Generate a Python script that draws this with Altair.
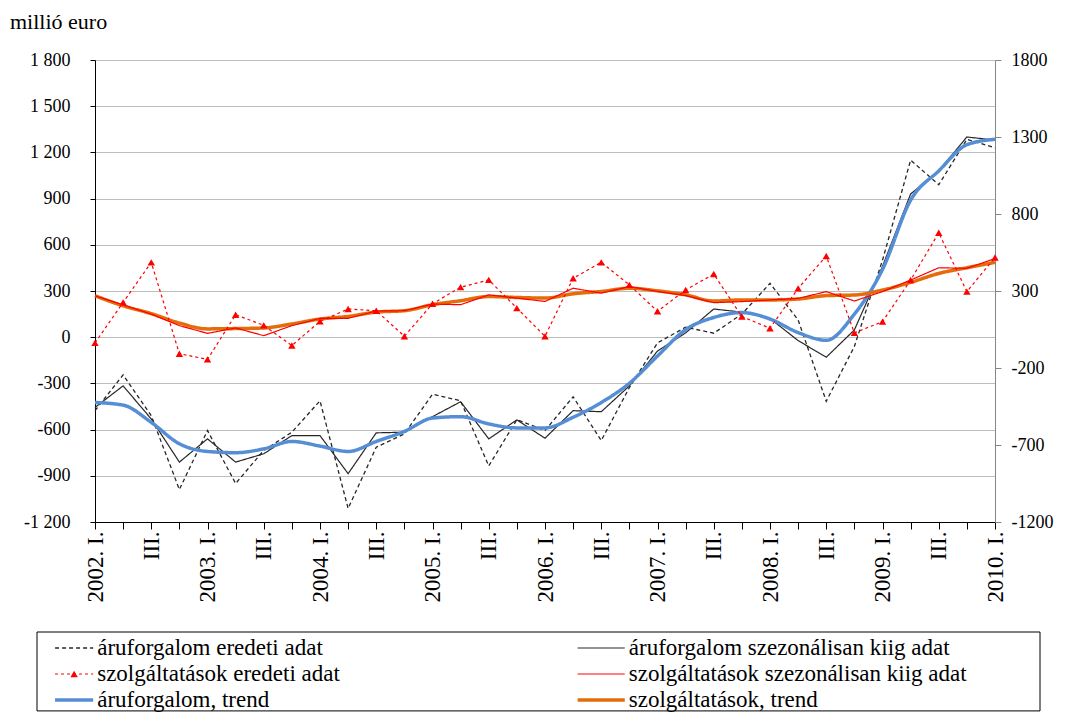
import json
import altair as alt
import pandas as pd

# ---------------- data ----------------
quarter_index = list(range(33))
tick_labels = ["2002. I.", "", "III.", "", "2003. I.", "", "III.", "",
               "2004. I.", "", "III.", "", "2005. I.", "", "III.", "",
               "2006. I.", "", "III.", "", "2007. I.", "", "III.", "",
               "2008. I.", "", "III.", "", "2009. I.", "", "III.", "",
               "2010. I."]

series_names = [
    "áruforgalom eredeti adat",
    "áruforgalom szezonálisan kiig adat",
    "szolgáltatások eredeti adat",
    "szolgáltatások szezonálisan kiig adat",
    "áruforgalom, trend",
    "szolgáltatások, trend",
]

goods_orig = [-477, -245, -510, -989, -606, -950, -735, -617, -413, -1112, -714,
              -628, -370, -413, -836, -535, -606, -387, -671, -327, -37, 65,
              26, 150, 350, 112, -416, -60, 500, 1150, 990, 1285, 1230]
goods_sa = [-456, -316, -531, -811, -660, -811, -757, -639, -639, -886, -621,
            -617, -516, -419, -660, -537, -656, -477, -484, -316, -90, 28,
            183, 163, 122, -22, -130, 47, 460, 930, 1080, 1300, 1280]
services_orig = [-37, 226, 486, -107, -144, 146, 77, -54, 103, 183, 172,
                 6, 217, 325, 372, 189, 6, 383, 486, 340, 168, 307,
                 410, 134, 58, 317, 527, 28, 101, 371, 678, 296, 518]
services_sa = [269, 210, 150, 75, 25, 60, 10, 75, 122, 122, 170,
               172, 215, 211, 275, 254, 232, 318, 286, 329, 297, 270,
               224, 231, 242, 252, 296, 235, 296, 371, 451, 447, 511]
goods_trend = [-424, -441, -553, -692, -742, -750, -725, -677, -707, -742, -677,
               -612, -525, -516, -563, -589, -589, -520, -424, -299, -122, 49,
               128, 160, 118, 30, -20, 150, 440, 890, 1080, 1250, 1285]
services_trend = [269, 204, 153, 92, 54, 56, 60, 86, 118, 135, 163,
                  172, 211, 237, 264, 258, 254, 282, 297, 318, 301, 275,
                  235, 242, 242, 248, 270, 274, 306, 356, 414, 451, 486]

series_values = [goods_orig, goods_sa, services_orig, services_sa, goods_trend, services_trend]

left_ticks = [-1200, -900, -600, -300, 0, 300, 600, 900, 1200, 1500, 1800]
right_ticks = [-1200, -700, -200, 300, 800, 1300, 1800]

# ---------------- styles ----------------
FONT = "Liberation Serif, DejaVu Serif, serif"
series_colors = ["#262626", "#262626", "#ff0000", "#ff0000", "#558ed5", "#e46c0a"]
series_dash = [[4, 3], [1, 0], [3, 3], [1, 0], [1, 0], [1, 0]]
series_width = [1.3, 1.2, 1.2, 1.2, 3.5, 3.5]
style = {n: (c, d, w) for n, c, d, w in zip(series_names, series_colors, series_dash, series_width)}

rows = []
for name, vals in zip(series_names, series_values):
    for i, v in zip(quarter_index, vals):
        rows.append({"series": name, "idx": i, "value": v})
df = pd.DataFrame(rows)

x_enc = alt.X(
    "idx:Q",
    scale=alt.Scale(domain=[0, 32], nice=False, zero=False),
    axis=alt.Axis(
        values=quarter_index,
        labelExpr=json.dumps(tick_labels) + "[datum.value]",
        labelAngle=270, labelOverlap=False, labelFlush=False,
        tickSize=7, labelPadding=2, grid=False, title=None,
        domainColor="black", tickColor="black", labelColor="black",
        labelFont=FONT, labelFontSize=23, minExtent=90, maxExtent=90,
    ),
)

y_left = alt.Y(
    "value:Q",
    scale=alt.Scale(domain=[-1200, 1800], nice=False, zero=False),
    axis=alt.Axis(
        values=left_ticks,
        labelExpr="(datum.value < 0 ? '-' : '') + replace(format(abs(datum.value), ','), ',', ' ')",
        grid=True, gridColor="#bdbdbd", gridWidth=1,
        tickSize=5, labelPadding=20, title=None,
        domainColor="black", tickColor="black", labelColor="black",
        labelFont=FONT, labelFontSize=18, minExtent=85, maxExtent=85,
    ),
)

y_right = alt.Y(
    "value:Q",
    scale=alt.Scale(domain=[-1200, 1800], nice=False, zero=False),
    axis=alt.Axis(
        orient="right", values=right_ticks,
        labelExpr="(datum.value < 0 ? '-' : '') + format(abs(datum.value), 'd')",
        grid=False, tickSize=6, labelPadding=10, title=None,
        domainColor="#868686", tickColor="#868686", labelColor="black",
        labelFont=FONT, labelFontSize=18,
    ),
)

draw_order = [series_names[0], series_names[1], series_names[4],
              series_names[5], series_names[3], series_names[2]]

layers = []
for s in draw_order:
    c, d, w = style[s]
    interp = "monotone" if "trend" in s else "linear"
    layers.append(
        alt.Chart(df).transform_filter(alt.datum.series == s)
        .mark_line(interpolate=interp, color=c, strokeDash=d, strokeWidth=w)
        .encode(x=x_enc, y=y_left)
    )
layers.append(
    alt.Chart(df).transform_filter(alt.datum.series == series_names[2])
    .mark_point(shape="triangle-up", filled=True, size=55, color="#ff0000", opacity=1)
    .encode(x=x_enc, y=y_left)
)

right_layer = (
    alt.Chart(df).transform_filter(alt.datum.series == series_names[4])
    .mark_line(opacity=0)
    .encode(x=x_enc, y=y_right)
)

main_layer = alt.layer(alt.layer(*layers), right_layer).resolve_scale(y="independent")

# ---------------- legend (built from the series list) ----------------
legend_col = [0, 1, 0, 1, 0, 1]
legend_row = [0, 0, 1, 1, 2, 2]
sym_start = [0.018, 0.539]
sym_end = [0.056, 0.586]
text_start = [0.060, 0.590]

leg = pd.DataFrame({"series": series_names, "col": legend_col, "row": legend_row})
leg["x0"] = [sym_start[c] for c in leg["col"]]
leg["x1"] = [sym_end[c] for c in leg["col"]]
leg["xm"] = (leg["x0"] + leg["x1"]) / 2
leg["tx"] = [text_start[c] for c in leg["col"]]
box = pd.DataFrame({"x0": [0.0], "x1": [1.0], "r0": [-0.615], "r1": [2.42]})

# legend area below the plot: columns as a fraction of the box width, rows as index
lx_scale = alt.Scale(domain=[0, 1], range=[-58, 945], nice=False, zero=False)
ly_scale = alt.Scale(domain=[0, 2], range=[588, 640], nice=False, zero=False)

leg_layers = [
    alt.Chart(box).mark_rect(fillOpacity=0, stroke="black", strokeWidth=1).encode(
        x=alt.X("x0:Q", scale=lx_scale, axis=None), x2="x1:Q",
        y=alt.Y("r0:Q", scale=ly_scale, axis=None), y2="r1:Q",
    )
]
for s in series_names:
    c, d, w = style[s]
    leg_layers.append(
        alt.Chart(leg).transform_filter(alt.datum.series == s)
        .mark_rule(color=c, strokeDash=d, strokeWidth=w)
        .encode(x=alt.X("x0:Q", scale=lx_scale, axis=None), x2="x1:Q",
                y=alt.Y("row:Q", scale=ly_scale, axis=None))
    )
leg_layers.append(
    alt.Chart(leg).transform_filter(alt.datum.series == series_names[2])
    .mark_point(shape="triangle-up", filled=True, size=55, color="#ff0000", opacity=1)
    .encode(x=alt.X("xm:Q", scale=lx_scale, axis=None),
            y=alt.Y("row:Q", scale=ly_scale, axis=None))
)
leg_layers.append(
    alt.Chart(leg).mark_text(align="left", baseline="middle", font=FONT,
                             fontSize=23, color="black")
    .encode(x=alt.X("tx:Q", scale=lx_scale, axis=None),
            y=alt.Y("row:Q", scale=ly_scale, axis=None), text="series:N")
)
legend_layer = alt.layer(*leg_layers)

chart = (
    alt.layer(main_layer, legend_layer)
    .resolve_scale(x="independent", y="independent")
    .properties(
        width=900, height=462,
        title=alt.TitleParams("millió euro", anchor="start", font=FONT, fontSize=22,
                              fontWeight="normal", color="black", offset=17),
        view=alt.ViewBackground(strokeOpacity=0),
        padding={"left": 2, "top": 3, "right": 5, "bottom": 0},
    )
)

chart.save("out.html", embed_options={"renderer": "svg", "actions": False})
